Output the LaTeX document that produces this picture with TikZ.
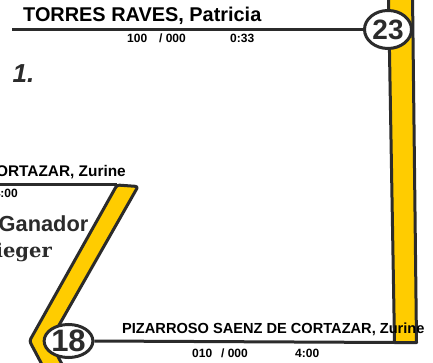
\documentclass[tikz,border=0pt]{standalone}
\usepackage{fontspec}
\setmainfont{Liberation Sans}
\newfontfamily\serifbold{DejaVu Serif}
\usetikzlibrary{shapes.geometric}
\definecolor{bandyellow}{HTML}{FFCC00}
\definecolor{ink}{HTML}{2B2B2B}
\begin{document}
\begin{tikzpicture}[x=1pt,y=-1pt,
  band/.style={fill=bandyellow, draw=ink, line width=3pt, line join=round},
  rule/.style={draw=ink, line width=3pt},
  numoval/.style={ellipse, draw=ink, line width=3pt, fill=white, inner sep=0pt, text=ink},
  bigname/.style={font=\bfseries\fontsize{19.9}{20}\selectfont, text=black, inner sep=0pt, anchor=base west},
  nametext/.style={font=\bfseries\fontsize{14.6}{15}\selectfont, text=black, inner sep=0pt, anchor=base west},
  stat/.style={font=\bfseries\fontsize{12}{12}\selectfont, text=black, inner sep=0pt, anchor=base west},
]
\useasboundingbox (0,0) rectangle (433,363);
\clip (0,0) rectangle (433,363);
\fill[white] (0,0) rectangle (433,363);
% right band
\coordinate (rbTL) at (388.5,-5);
\coordinate (rbTR) at (412.5,-5);
\coordinate (rbBR) at (416.5,342.5);
\coordinate (rbBL) at (394.5,342.5);
\draw[band] (rbTL) -- (rbBL) -- (rbBR) -- (rbTR);
% left chevron band
\coordinate (lbT1) at (117,185);
\coordinate (lbT2) at (138,186.5);
\coordinate (lbV) at (29.5,341);
\coordinate (lbBo) at (47,374);
\coordinate (lbIV) at (50,341);
\coordinate (lbBi) at (67,374);
\draw[band, rounded corners=2.5pt] (lbBo) -- (lbV) -- (lbT1) -- (lbT2) -- (lbIV) -- (lbBi);
% number ellipses
\node[numoval, minimum width=47pt, minimum height=38pt, font=\bfseries\fontsize{28}{28}\selectfont] (e23) at (388,29.5) {23};
\node[numoval, minimum width=44pt, minimum height=33pt, font=\bfseries\fontsize{31}{31}\selectfont] (e18) at (68.5,341) {18};
% rules
\coordinate (tl) at (12,29.5);
\coordinate (ml) at (-5,185);
\draw[rule] (tl) -- (e23.west);
\draw[rule] (ml) -- (lbT1);
\draw[rule] (e18.east) -- (rbBL);
% texts
\node[bigname] (t1) at (23,22) {TORRES RAVES, Patricia};
\node[stat] (t1a) at (127,43) {100};
\node[stat, anchor=base east] (t1b) at (186,43) {/ 000};
\node[stat] (t1c) at (230,43) {0:33};
\node[font=\bfseries\itshape\fontsize{26}{26}\selectfont, text=ink, anchor=base west, inner sep=0pt] (rank) at (12.5,83) {1.};
\node[nametext, anchor=base east, font=\bfseries\fontsize{15.4}{16}\selectfont] (t2) at (126,177) {DE CORTAZAR, Zurine};
\node[stat, anchor=base east] (t2c) at (18,197) {4:00};
\node[font=\bfseries\fontsize{21.8}{22}\selectfont, text=ink, anchor=base west, inner sep=0pt] (gan) at (-1.5,232) {Ganador};
\node[font=\serifbold\bfseries\fontsize{19.5}{20}\selectfont, text=ink, anchor=base east, inner sep=0pt] (sie) at (52,257) {Sieger};
\node[nametext] (t3) at (122,333) {PIZARROSO SAENZ DE CORTAZAR, Zurine};
\node[stat] (t3a) at (192,357) {010};
\node[stat, anchor=base east] (t3b) at (248,357) {/ 000};
\node[stat] (t3c) at (295,357) {4:00};
\end{tikzpicture}
\end{document}
